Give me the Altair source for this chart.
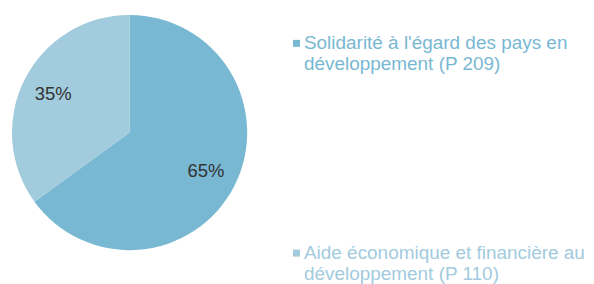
import altair as alt
import pandas as pd

categories = ["Solidarité à l'égard des pays en\ndéveloppement (P 209)",
              "Aide économique et financière au\ndéveloppement (P 110)"]
shares = [65, 35]
labels = ["65%", "35%"]
order = [1, 2]
slice_colors = ["#79B8D2", "#A2CBDE"]
text_colors = ["#6DB3D1", "#9ACAE0"]

df = pd.DataFrame({"cat": categories, "share": shares, "label": labels, "ord": order})

color = alt.Color("cat:N", scale=alt.Scale(domain=categories, range=slice_colors), legend=None)

base = alt.Chart(df).encode(
    theta=alt.Theta("share:Q", stack=True),
    order=alt.Order("ord:Q"),
)
pie = base.mark_arc(outerRadius=118, stroke=None).encode(color=color)
txt = base.mark_text(radius=86, fontSize=18.5, font="Liberation Sans", color="#333333").encode(
    text="label:N")
pie_panel = (pie + txt).properties(width=244, height=249)

yscale = alt.Y("cat:N", scale=alt.Scale(domain=categories, padding=0.0915, align=0.909), axis=None)
lbase = alt.Chart(df).encode(y=yscale)
squares = lbase.mark_square(size=49, opacity=1).encode(x=alt.value(3.5), color=color)
ltext = lbase.mark_text(align="left", baseline="alphabetic", dy=6, fontSize=19,
                        font="Liberation Sans", lineBreak="\n", lineHeight=20.5).encode(
    x=alt.value(11), text="cat:N",
    color=alt.Color("cat:N", scale=alt.Scale(domain=categories, range=text_colors), legend=None))
legend_panel = (squares + ltext).properties(width=290, height=249)

chart = alt.hconcat(pie_panel, legend_panel, spacing=42).resolve_scale(color="independent").properties(
    padding=0).configure_view(stroke=None)

chart.save("out.html", embed_options={"renderer": "svg", "actions": False})
